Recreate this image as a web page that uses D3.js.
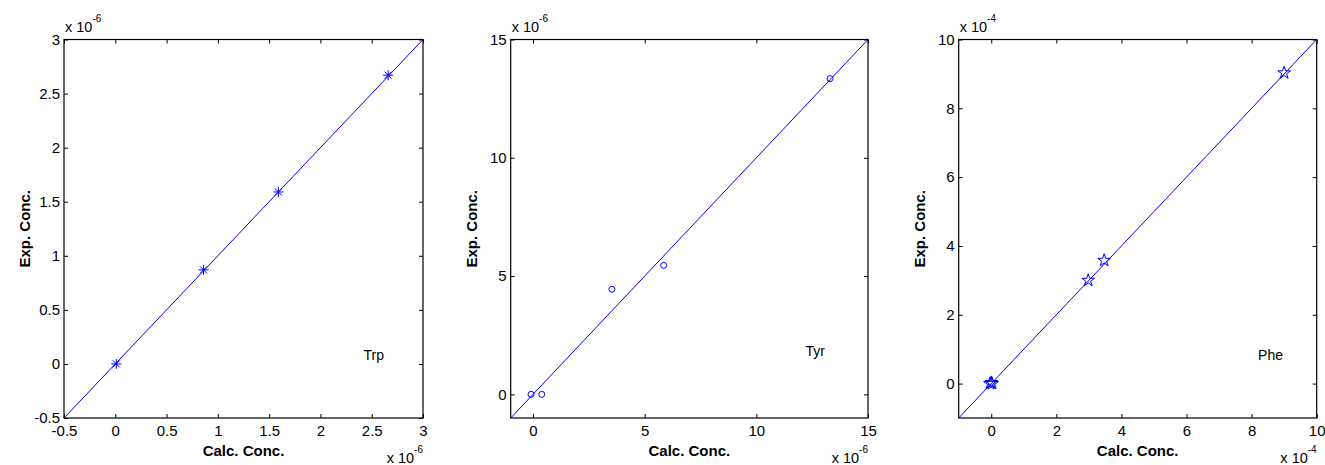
<!DOCTYPE html>
<html>
<head>
<meta charset="utf-8">
<script src="https://cdn.jsdelivr.net/npm/d3@7"></script>
<style>
  body { margin: 0; background: #fff; }
  svg { display: block; font-family: "Liberation Sans", Arial, Helvetica, sans-serif; }
</style>
</head>
<body>
<svg id="chart" width="1325" height="465"></svg>
<script>
// values are in units of the axis multiplier (x 10^-6 or x 10^-4)
const trpCalc = [0.01, 0.86, 1.59, 2.66];
const trpExp = [0.0, 0.87, 1.59, 2.67];
const tyrCalc = [-0.09, 0.39, 3.53, 5.85, 13.3];
const tyrExp = [0.0, 0.0, 4.44, 5.45, 13.35];
const pheCalc = [-0.04, 0.0, 0.03, 2.98, 3.47, 9.0];
const pheExp = [0.0, 0.03, 0.0, 3.0, 3.58, 9.03];

const trpTicks = [-0.5, 0, 0.5, 1, 1.5, 2, 2.5, 3];
const tyrTicks = [0, 5, 10, 15];
const pheTicks = [0, 2, 4, 6, 8, 10];

const names = ['Trp', 'Tyr', 'Phe'];
const exponents = ['-6', '-6', '-4'];

const svg = d3.select('#chart');
const plotTop = 39.5, plotBottom = 418;

const panels = [
  {left: 64, right: 423, dom: [-0.5, 3], ticks: trpTicks, xs: trpCalc, ys: trpExp, marker: 'asterisk', lab: [2.42, 0.04]},
  {left: 510.7, right: 868, dom: [-1, 15], ticks: tyrTicks, xs: tyrCalc, ys: tyrExp, marker: 'circle', lab: [12.2, 1.62]},
  {left: 958.7, right: 1316.7, dom: [-1, 10], ticks: pheTicks, xs: pheCalc, ys: pheExp, marker: 'star', lab: [8.2, 0.7]},
];

const fmt = (d) => String(d);

panels.forEach((p, k) => {
  const x = d3.scaleLinear().domain(p.dom).range([p.left, p.right]);
  const y = d3.scaleLinear().domain(p.dom).range([plotBottom, plotTop]);
  const g = svg.append('g');

  // axes, ticks pointing inward, mirrored on top and right
  const styleAxis = (sel) => {
    sel.attr('font-family', null).attr('font-size', 15);
    sel.select('.domain').remove();
    sel.selectAll('line').attr('stroke', '#000');
    sel.selectAll('text').attr('fill', '#000');
  };
  g.append('g').attr('transform', `translate(0,${plotBottom})`)
    .call(d3.axisBottom(x).tickValues(p.ticks).tickSize(-4).tickPadding(7).tickFormat(fmt))
    .call(styleAxis);
  g.append('g').attr('transform', `translate(0,${plotTop})`)
    .call(d3.axisTop(x).tickValues(p.ticks).tickSize(-4).tickFormat(''))
    .call(styleAxis);
  g.append('g').attr('transform', `translate(${p.left},0)`)
    .call(d3.axisLeft(y).tickValues(p.ticks).tickSize(-4).tickPadding(4).tickFormat(fmt))
    .call(styleAxis);
  g.append('g').attr('transform', `translate(${p.right},0)`)
    .call(d3.axisRight(y).tickValues(p.ticks).tickSize(-4).tickFormat(''))
    .call(styleAxis);

  g.append('rect')
    .attr('x', p.left).attr('y', plotTop)
    .attr('width', p.right - p.left).attr('height', plotBottom - plotTop)
    .attr('fill', 'none').attr('stroke', '#000').attr('stroke-width', 1.2);

  // y = x reference line across the axes
  g.append('line')
    .attr('x1', x(p.dom[0])).attr('y1', y(p.dom[0]))
    .attr('x2', x(p.dom[1])).attr('y2', y(p.dom[1]))
    .attr('stroke', '#0000ff').attr('stroke-width', 1);

  const pts = p.xs.map((v, i) => [v, p.ys[i]]);
  if (p.marker === 'asterisk') {
    const s = 5;
    g.selectAll('.ast').data(pts).join('path')
      .attr('class', 'ast')
      .attr('transform', (d) => `translate(${x(d[0])},${y(d[1])})`)
      .attr('d', `M${-s},0H${s}M0,${-s}V${s}M${-s * 0.7},${-s * 0.7}L${s * 0.7},${s * 0.7}M${-s * 0.7},${s * 0.7}L${s * 0.7},${-s * 0.7}`)
      .attr('stroke', '#0000ff').attr('stroke-width', 1).attr('fill', 'none');
  } else if (p.marker === 'circle') {
    g.selectAll('.circ').data(pts).join('circle')
      .attr('class', 'circ')
      .attr('cx', (d) => x(d[0])).attr('cy', (d) => y(d[1])).attr('r', 3)
      .attr('stroke', '#0000ff').attr('stroke-width', 1).attr('fill', 'none');
  } else {
    g.selectAll('.star').data(pts).join('path')
      .attr('class', 'star')
      .attr('transform', (d) => `translate(${x(d[0])},${y(d[1])})`)
      .attr('d', d3.symbol(d3.symbolStar, 50))
      .attr('stroke', '#0000ff').attr('stroke-width', 1).attr('fill', 'none');
  }

  // amino acid label
  g.append('text')
    .attr('x', x(p.lab[0])).attr('y', y(p.lab[1]))
    .attr('font-size', 14)
    .text(names[k]);

  // axis titles
  g.append('text')
    .attr('x', (p.left + p.right) / 2).attr('y', 456)
    .attr('text-anchor', 'middle').attr('font-size', 15).attr('font-weight', 'bold')
    .text('Calc. Conc.');
  g.append('text')
    .attr('transform', `translate(${p.left - 34},${(plotTop + plotBottom) / 2}) rotate(-90)`)
    .attr('text-anchor', 'middle').attr('font-size', 15).attr('font-weight', 'bold')
    .text('Exp. Conc.');

  // multipliers
  const mTop = g.append('text').attr('x', p.left + 1).attr('y', plotTop - 8).attr('font-size', 14.5);
  mTop.append('tspan').text('x 10');
  mTop.append('tspan').attr('font-size', 10).attr('dy', -10).text(exponents[k]);
  const mBot = g.append('text').attr('x', p.right).attr('y', 463).attr('font-size', 14.5)
    .attr('text-anchor', 'end');
  mBot.append('tspan').text('x 10');
  mBot.append('tspan').attr('font-size', 10).attr('dy', -10).text(exponents[k]);
});
</script>
</body>
</html>
